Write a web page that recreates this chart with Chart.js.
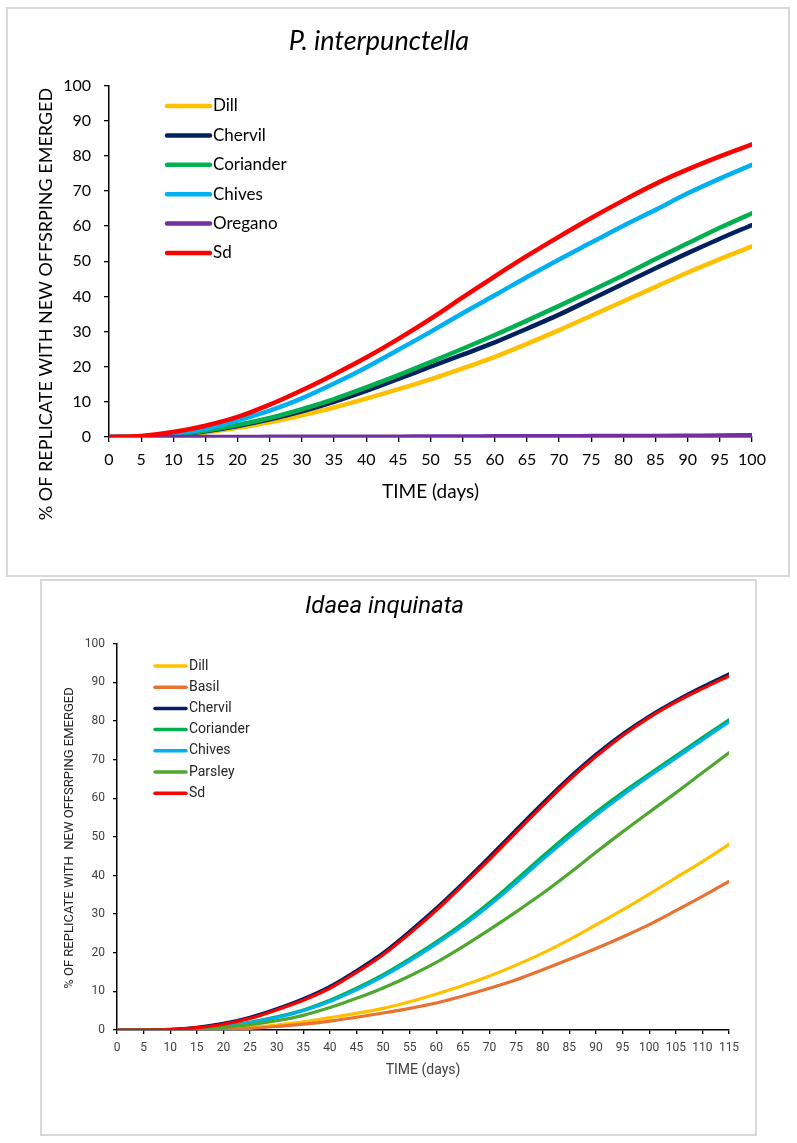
<!DOCTYPE html>
<html>
<head>
<meta charset="utf-8">
<title>Offspring emergence curves</title>
<script src="https://cdn.jsdelivr.net/npm/chart.js@4.4.1/dist/chart.umd.min.js"></script>
<style>
  body { margin: 0; background: #fff; }
  .frame { position: absolute; box-sizing: border-box; outline: 2px solid #d9d9d9; outline-offset: -2px; }
  #boxTop { left: 6px; top: 7px; width: 784px; height: 570px; }
  #boxBottom { left: 40px; top: 579px; width: 717px; height: 557px; }
</style>
</head>
<body>
<div class="frame" id="boxTop"><canvas id="chartTop"></canvas></div>
<div class="frame" id="boxBottom"><canvas id="chartBottom"></canvas></div>
<script>
// ---- P. interpunctella (every 5 days) ----
var daysTop = [0,5,10,15,20,25,30,35,40,45,50,55,60,65,70,75,80,85,90,95,100];
var dillTop      = [0,0,0.4,1.3,2.6,4.2,6.2,8.4,10.9,13.6,16.4,19.5,22.8,26.5,30.4,34.5,38.6,42.7,46.8,50.6,54.2];
var chervilTop   = [0,0,0.5,1.6,3.1,5.0,7.3,10.0,13.1,16.5,20.0,23.4,26.9,30.8,34.8,39.2,43.6,48.0,52.3,56.4,60.3];
var corianderTop = [0,0,0.6,1.8,3.4,5.4,7.9,10.8,14.1,17.6,21.3,25.1,29.0,33.1,37.3,41.6,46.0,50.6,55.1,59.5,63.6];
var chivesTop    = [0,0.1,0.9,2.3,4.7,7.5,11.0,15.2,19.8,24.8,29.9,35.2,40.3,45.5,50.5,55.3,60.1,64.6,69.3,73.5,77.4];
var oreganoTop   = [0,0,0,0,0,0.05,0.1,0.1,0.1,0.1,0.15,0.15,0.2,0.2,0.2,0.25,0.3,0.3,0.35,0.4,0.5];
var sdTop        = [0,0.3,1.4,3.2,5.7,9.2,13.3,17.8,22.6,27.9,33.6,39.7,45.7,51.5,57.0,62.3,67.3,72.0,76.1,79.8,83.2];

// ---- Idaea inquinata ----
var daysBottom = [0,5,10,15,20,25,30,35,40,45,50,55,60,65,70,75,80,85,90,95,100,105,110,115];
var dillBottom      = [0,0,0,0,0.3,0.7,1.3,2.1,3.2,4.3,5.6,7.3,9.3,11.5,14.0,16.8,19.9,23.4,27.2,31.1,35.2,39.4,43.6,48.1];
var basilBottom     = [0,0,0,0,0.1,0.4,0.9,1.5,2.3,3.3,4.4,5.6,7.0,8.8,10.8,13.0,15.6,18.3,21.1,24.1,27.3,30.9,34.6,38.5];
var chervilBottom   = [0,0,0.15,0.7,1.7,3.3,5.5,8.1,11.3,15.4,20.0,25.6,31.6,38.1,44.9,51.9,58.8,65.4,71.4,76.7,81.3,85.3,88.9,92.2];
var corianderBottom = [0,0,0,0.3,1.0,2.0,3.4,5.2,7.7,10.8,14.3,18.4,22.8,27.6,33.0,38.9,45.0,50.9,56.4,61.5,66.3,71.0,75.7,80.3];
var chivesBottom    = [0,0,0,0.3,0.9,1.9,3.2,5.0,7.4,10.4,13.9,17.9,22.3,27.0,32.3,38.1,44.2,50.0,55.6,60.8,65.7,70.4,75.1,79.8];
var parsleyBottom   = [0,0,0,0.2,0.7,1.4,2.4,3.8,5.8,8.2,10.9,14.0,17.5,21.6,26.0,30.6,35.4,40.6,46.0,51.3,56.4,61.4,66.6,71.8];
var sdBottom        = [0,0,0.1,0.6,1.5,3.0,5.2,7.7,10.8,14.9,19.5,25.0,31.0,37.5,44.2,51.2,58.1,64.8,70.8,76.2,80.9,84.9,88.4,91.7];

var seriesTop = [
  ["Dill", dillTop, "#FFC000"],
  ["Chervil", chervilTop, "#002060"],
  ["Coriander", corianderTop, "#00B050"],
  ["Chives", chivesTop, "#00B0F0"],
  ["Oregano", oreganoTop, "#7030A0"],
  ["Sd", sdTop, "#FF0000"]
];
var seriesBottom = [
  ["Dill", dillBottom, "#FFC000"],
  ["Basil", basilBottom, "#E97132"],
  ["Chervil", chervilBottom, "#002060"],
  ["Coriander", corianderBottom, "#00B050"],
  ["Chives", chivesBottom, "#00B0F0"],
  ["Parsley", parsleyBottom, "#4EA72E"],
  ["Sd", sdBottom, "#FF0000"]
];

// turn the lists into chart.js datasets (last one drawn on top)
function makeSets(days, series, width) {
  return series.map(function (s, i) {
    return {
      label: s[0],
      data: days.map(function (d, j) { return { x: d, y: s[1][j] }; }),
      borderColor: s[2],
      backgroundColor: s[2],
      borderWidth: width,
      borderCapStyle: "round",
      pointRadius: 0,
      cubicInterpolationMode: "monotone",
      fill: false,
      order: series.length - i
    };
  });
}

// draws the rotated y title and the legend inside the plot
var sideText = {
  id: "sideText",
  afterDraw: function (chart, args, o) {
    var ctx = chart.ctx;
    ctx.save();
    ctx.fillStyle = o.color;
    ctx.font = o.yFont;
    ctx.textAlign = "center";
    ctx.textBaseline = "middle";
    ctx.translate(o.yX, o.yY);
    ctx.rotate(-Math.PI / 2);
    ctx.fillText(o.yTitle, 0, 0);
    ctx.restore();

    ctx.save();
    ctx.font = o.legFont;
    ctx.textAlign = "left";
    ctx.textBaseline = "middle";
    chart.data.datasets.forEach(function (ds, i) {
      var y = o.legY + i * o.legGap;
      ctx.strokeStyle = ds.borderColor;
      ctx.lineWidth = o.legLine;
      ctx.lineCap = "round";
      ctx.beginPath();
      ctx.moveTo(o.legX1, y);
      ctx.lineTo(o.legX2, y);
      ctx.stroke();
      ctx.fillStyle = o.color;
      ctx.fillText(ds.label, o.legText, y);
    });
    ctx.restore();
  }
};

function axisOpts(max, step, font, color, tl, pad, fitKey, fitVal, title) {
  var a = {
    type: "linear",
    min: 0,
    max: max,
    ticks: { stepSize: step, font: font, color: color, padding: pad, autoSkip: false, maxRotation: 0 },
    grid: { display: true, drawOnChartArea: false, drawTicks: true, tickLength: tl, color: "#000", lineWidth: 1.3 },
    border: { display: true, color: "#000", width: 1.5 },
    afterFit: function (scale) { scale[fitKey] = fitVal; }
  };
  if (title) a.title = title;
  return a;
}

Chart.defaults.animation = false;

new Chart(document.getElementById("chartTop"), {
  type: "line",
  data: { datasets: makeSets(daysTop, seriesTop, 4.5) },
  options: {
    responsive: true,
    maintainAspectRatio: false,
    devicePixelRatio: 1,
    layout: { padding: { left: 0, right: 38, top: 0, bottom: 0 } },
    scales: {
      x: axisOpts(100, 5, { family: "Lato", size: 16 }, "#000", 5, 8, "height", 140,
        { display: true, text: "TIME (days)", color: "#000", font: { family: "Lato", size: 19 }, padding: { top: 0, bottom: 74 } }),
      y: axisOpts(100, 10, { family: "Lato", size: 16 }, "#000", 5, 13, "width", 103)
    },
    plugins: {
      legend: { display: false },
      tooltip: { enabled: false },
      title: {
        display: true, text: "P. interpunctella", color: "#000",
        font: { family: "Lato", size: 27, style: "italic", weight: "normal" },
        padding: { top: 18, bottom: 28 }
      },
      sideText: {
        color: "#000", yTitle: "% OF REPLICATE WITH NEW OFFSRPING EMERGED",
        yFont: "18px Lato", yX: 40, yY: 297,
        legFont: "17px Lato", legX1: 161, legX2: 204, legText: 207, legY: 99, legGap: 29.4, legLine: 4.5
      }
    }
  },
  plugins: [sideText]
});

new Chart(document.getElementById("chartBottom"), {
  type: "line",
  data: { datasets: makeSets(daysBottom, seriesBottom, 3.2) },
  options: {
    responsive: true,
    maintainAspectRatio: false,
    devicePixelRatio: 1,
    layout: { padding: { left: 0, right: 28, top: 0, bottom: 0 } },
    scales: {
      x: axisOpts(115, 5, { family: "Roboto", size: 12 }, "#404040", 4, 7, "height", 106,
        { display: true, text: "TIME (days)", color: "#404040", font: { family: "Roboto", size: 14 }, padding: { top: 0, bottom: 57 } }),
      y: axisOpts(100, 10, { family: "Roboto", size: 12 }, "#404040", 4, 8, "width", 77)
    },
    plugins: {
      legend: { display: false },
      tooltip: { enabled: false },
      title: {
        display: true, text: "Idaea inquinata", color: "#000",
        font: { family: "Roboto", size: 24, style: "italic", weight: "normal" },
        padding: { top: 14, bottom: 22 }
      },
      sideText: {
        color: "#262626", yTitle: "% OF REPLICATE WITH  NEW OFFSRPING EMERGED",
        yFont: "13px Roboto", yX: 30, yY: 259,
        legFont: "14px Roboto", legX1: 115, legX2: 146, legText: 149, legY: 87, legGap: 21.2, legLine: 3.5
      }
    }
  },
  plugins: [sideText]
});
</script>
</body>
</html>
